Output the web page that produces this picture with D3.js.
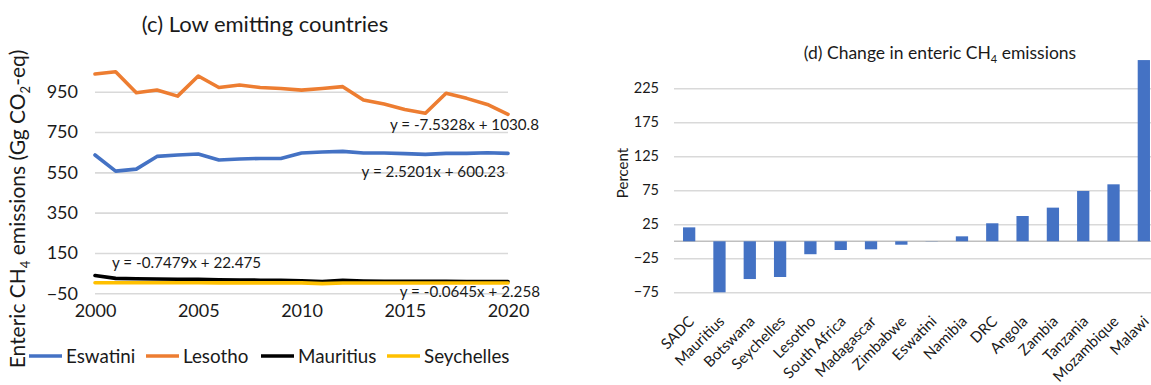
<!DOCTYPE html>
<html><head><meta charset="utf-8">
<script src="https://cdn.jsdelivr.net/npm/d3@7"></script>
<style>
body{margin:0;background:#fff}
svg{display:block}
text{font-family:Lato,"Liberation Sans",sans-serif;fill:#1a1a1a}
</style>
</head><body>
<svg id="chart" width="1151" height="385"></svg>
<script>
// ---------- Data: panel (c) ----------
const years = [2000,2001,2002,2003,2004,2005,2006,2007,2008,2009,2010,2011,2012,2013,2014,2015,2016,2017,2018,2019,2020];
const eswatini  = [636,556,566,629,636,641,611,616,619,619,646,651,654,646,646,643,639,644,644,647,644];
const lesotho   = [1038,1049,945,958,928,1028,971,983,971,966,958,966,975,909,889,862,843,942,917,887,838];
const mauritius = [38,24,22,21,20,19,17,16,15,14,12,8,14,11,10,10,9,9,8,8,8];
const seychelles= [2.5,2.4,2.3,2.2,2.1,2.0,1.9,1.8,1.8,1.7,1.5,-2,1.4,1.3,1.2,1.2,1.1,1.0,1.0,0.9,0.9];
const seriesNames = ["Eswatini","Lesotho","Mauritius","Seychelles"];
const seriesColors = ["#4472C4","#ED7D31","#000000","#FFC000"];
const yTicksC = [-50,150,350,550,750,950];
const xTicksC = [2000,2005,2010,2015,2020];
const trendLabels = ["y = -7.5328x + 1030.8","y = 2.5201x + 600.23","y = -0.7479x + 22.475","y = -0.0645x + 2.258"];

// ---------- Data: panel (d) ----------
const countries = ["SADC","Mauritius","Botswana","Seychelles","Lesotho","South Africa","Madagascar","Zimbabwe","Eswatini","Namibia","DRC","Angola","Zambia","Tanzania","Mozambique","Malawi"];
const changePct = [20.5,-75,-55.5,-52.5,-19,-12.8,-11.8,-5,0.3,7.3,26.5,37.2,49.5,74,83.8,266.5];
const yTicksD = [-75,-25,25,75,125,175,225];

const svg = d3.select("#chart");
const grid = "#d9d9d9";

// ================= Panel (c) =================
const x = d3.scaleLinear().domain([2000,2020]).range([95,508]);
const y = d3.scaleLinear().domain([-50,950]).range([293.3,91.7]);

const gC = svg.append("g");
const yAx = gC.append("g").attr("transform","translate(95,0)")
  .call(d3.axisLeft(y).tickValues(yTicksC).tickSize(-(508-95)).tickPadding(17).tickFormat(d3.format("d")));
yAx.select(".domain").remove();
yAx.selectAll(".tick line").attr("stroke",grid).attr("stroke-width",1.6);
yAx.selectAll(".tick text").attr("font-size",18).attr("font-family","Lato").attr("fill","#1a1a1a");

const xAx = gC.append("g").attr("transform","translate(0,293.3)")
  .call(d3.axisBottom(x).tickValues(xTicksC).tickSize(0).tickFormat(d3.format("d")));
xAx.select(".domain").remove();
xAx.selectAll(".tick text").attr("font-size",18).attr("font-family","Lato").attr("fill","#1a1a1a")
  .attr("y",17).attr("dy","0.35em");

const allSeries = [eswatini,lesotho,mauritius,seychelles];
const line = d3.line().x((d,i)=>x(years[i])).y(d=>y(d));
allSeries.forEach((s,k)=>{
  gC.append("path").datum(s).attr("d",line).attr("fill","none")
    .attr("stroke",seriesColors[k]).attr("stroke-width",3.6)
    .attr("stroke-linejoin","round").attr("stroke-linecap","round");
});

// trend equations
const eqPos = [[539,125,"end"],[505,172,"end"],[112,263,"start"],[540,292,"end"]];
trendLabels.forEach((t,i)=>{
  gC.append("text").attr("x",eqPos[i][0]).attr("y",eqPos[i][1]).attr("dy","0.35em")
    .attr("text-anchor",eqPos[i][2]).attr("font-size",15.2).text(t);
});

// title
gC.append("text").attr("x",265).attr("y",24).attr("dy","0.35em").attr("text-anchor","middle")
  .attr("font-size",22).text("(c) Low emitting countries");

// y title
const yt = gC.append("text").attr("transform","translate(18,209) rotate(-90)")
  .attr("text-anchor","middle").attr("dy","0.35em").attr("font-size",21);
yt.append("tspan").text("Enteric CH");
yt.append("tspan").attr("font-size",13).attr("dy",5).text("4");
yt.append("tspan").attr("dy",-5).text(" emissions (Gg CO");
yt.append("tspan").attr("font-size",13).attr("dy",5).text("2");
yt.append("tspan").attr("dy",-5).text("-eq)");

// legend
const legX = [29,146,261,387];
seriesNames.forEach((n,i)=>{
  gC.append("line").attr("x1",legX[i]).attr("x2",legX[i]+33).attr("y1",356).attr("y2",356)
    .attr("stroke",seriesColors[i]).attr("stroke-width",3.6);
  gC.append("text").attr("x",legX[i]+37).attr("y",356).attr("dy","0.35em")
    .attr("font-size",18.8).text(n);
});

// ================= Panel (d) =================
const xb = d3.scaleBand().domain(countries).range([674,1159]).paddingInner(0.595).paddingOuter(0.2975);
const yb = d3.scaleLinear().domain([-75,225]).range([292.3,88.3]);
const gD = svg.append("g");

const ybAx = gD.append("g").attr("transform","translate(674,0)")
  .call(d3.axisLeft(yb).tickValues(yTicksD).tickSize(-(1159-674)).tickPadding(15).tickFormat(d3.format("d")));
ybAx.select(".domain").remove();
ybAx.selectAll(".tick line").attr("stroke",grid).attr("stroke-width",1.6);
ybAx.selectAll(".tick text").attr("font-size",14.5).attr("font-family","Lato").attr("fill","#1a1a1a");

gD.append("line").attr("x1",674).attr("x2",1159).attr("y1",yb(0)).attr("y2",yb(0))
  .attr("stroke","#bfbfbf").attr("stroke-width",1.6);

gD.selectAll("rect.bar").data(changePct).join("rect").attr("class","bar")
  .attr("x",(d,i)=>xb(countries[i])).attr("width",xb.bandwidth())
  .attr("y",d=>yb(Math.max(0,d))).attr("height",d=>Math.abs(yb(d)-yb(0)))
  .attr("fill","#4472C4");

const xbAx = gD.append("g").attr("transform","translate(0,292.3)")
  .call(d3.axisBottom(xb).tickSize(0));
xbAx.select(".domain").remove();
xbAx.selectAll(".tick text").attr("font-size",15).attr("font-family","Lato").attr("fill","#1a1a1a")
  .attr("text-anchor","end").attr("y",0).attr("dy",0)
  .attr("transform","translate(6,30) rotate(-45)");

const tt = gD.append("text").attr("x",940).attr("y",53).attr("dy","0.35em").attr("text-anchor","middle").attr("font-size",17.5);
tt.append("tspan").text("(d) Change in enteric CH");
tt.append("tspan").attr("font-size",11).attr("dy",4).text("4");
tt.append("tspan").attr("dy",-4).text(" emissions");

gD.append("text").attr("transform","translate(623,173) rotate(-90)").attr("text-anchor","middle")
  .attr("dy","0.35em").attr("font-size",15).text("Percent");
</script>
</body></html>
